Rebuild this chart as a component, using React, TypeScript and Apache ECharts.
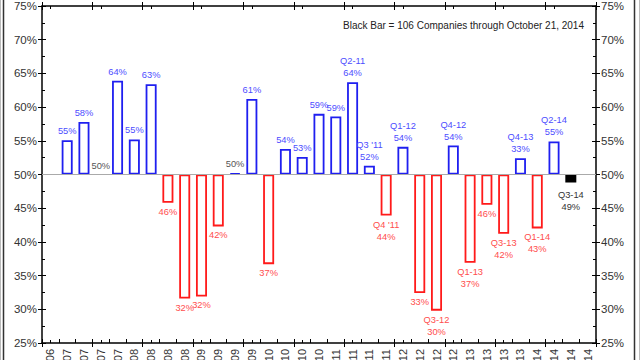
import React, { useEffect, useRef } from "react";
import * as echarts from "echarts";

const categories = [
  "Q4-06",
  "Q1-07", "Q2-07", "Q3-07", "Q4-07",
  "Q1-08", "Q2-08", "Q3-08", "Q4-08",
  "Q1-09", "Q2-09", "Q3-09", "Q4-09",
  "Q1-10", "Q2-10", "Q3-10", "Q4-10",
  "Q1-11", "Q2-11", "Q3-11", "Q4-11",
  "Q1-12", "Q2-12", "Q3-12", "Q4-12",
  "Q1-13", "Q2-13", "Q3-13", "Q4-13",
  "Q1-14", "Q2-14", "Q3-14", "Q4-14",
];

// percentage of companies beating (bar height, %)
const values: (number | null)[] = [
  null,
  55.1, 57.8, 50.0, 63.9,
  55.2, 63.4, 45.8, 31.6,
  31.9, 42.3, 50.2, 61.2,
  36.7, 53.8, 52.6, 59.0,
  58.6, 63.7, 51.3, 43.9,
  54.1, 32.4, 29.8, 54.3,
  36.9, 45.5, 41.2, 52.4,
  42.0, 54.9, 48.8, null,
];

// printed labels above / below bars
const barLabels: string[] = [
  "",
  "55%", "58%", "50%", "64%",
  "55%", "63%", "46%", "32%",
  "32%", "42%", "50%", "61%",
  "37%", "54%", "53%", "59%",
  "59%", "Q2-11\n64%", "Q3 '11\n52%", "Q4 '11\n44%",
  "Q1-12\n54%", "33%", "Q3-12\n30%", "Q4-12\n54%",
  "Q1-13\n37%", "46%", "Q3-13\n42%", "Q4-13\n33%",
  "Q1-14\n43%", "Q2-14\n55%", "Q3-14\n49%", "",
];

const highlightIndex = 31; // black bar (partial quarter)
const BASE = 50;
const yTicks = { min: 25, max: 75, step: 5 };

const FONT = "'Liberation Sans', Arial, sans-serif";
const BLUE = "#1f1ff0";
const RED = "#ff1a1a";
const BLUE_TXT = "#4d4dff";
const RED_TXT = "#ff4d4d";

export default function App() {
  const ref = useRef<HTMLDivElement>(null);

  useEffect(() => {
    if (!ref.current) return;
    const chart = echarts.init(ref.current, null, { renderer: "svg" });

    const barData = values.map((v, i) => {
      if (v == null) return null;
      const d = v - BASE;
      const isHi = i === highlightIndex;
      const isFlat = Math.abs(d) < 0.05;
      const up = d >= 0;
      const stroke = isHi ? "#000" : up ? BLUE : RED;
      const txt = isHi ? "#333" : isFlat || barLabels[i] === "50%" ? "#555" : up ? BLUE_TXT : RED_TXT;
      return {
        value: d,
        itemStyle: {
          color: isHi ? "#000" : "#fff",
          borderColor: stroke,
          borderWidth: isFlat ? 0 : 1.8,
        },
        label: {
          show: true,
          formatter: barLabels[i],
          position: up ? "top" : "bottom",
          distance: isHi ? 6 : 3,
          color: txt,
          fontSize: 9.3,
          lineHeight: 12,
          fontFamily: FONT,
        },
      };
    });

    const baseX = {
      type: "category" as const,
      data: categories,
      boundaryGap: true,
      splitLine: { show: false },
    };
    const tickStyle = { color: "#000", width: 1 };

    const xAxes = [
      {
        ...baseX,
        position: "bottom",
        axisLine: { show: true, onZero: false, lineStyle: { color: "#000", width: 1.5 } },
        axisTick: { show: true, inside: true, length: 4, lineStyle: tickStyle },
        axisLabel: {
          show: true,
          rotate: 90,
          interval: 0,
          margin: 6,
          color: "#333",
          fontSize: 11,
          fontFamily: FONT,
        },
      },
      {
        ...baseX,
        position: "bottom",
        axisLine: { show: false, onZero: false },
        axisTick: { show: true, inside: false, length: 4, lineStyle: tickStyle },
        axisLabel: { show: false },
      },
      {
        ...baseX,
        position: "bottom",
        axisLine: { show: false, onZero: false },
        axisTick: { show: true, inside: true, length: 3, alignWithLabel: true, lineStyle: tickStyle },
        axisLabel: { show: false },
      },
      {
        ...baseX,
        position: "top",
        axisLine: { show: true, onZero: false, lineStyle: { color: "#000", width: 1.5 } },
        axisTick: { show: true, inside: true, length: 4, lineStyle: tickStyle },
        axisLabel: { show: false },
      },
      {
        ...baseX,
        position: "top",
        axisLine: { show: false, onZero: false },
        axisTick: { show: true, inside: false, length: 4, lineStyle: tickStyle },
        axisLabel: { show: false },
      },
      {
        ...baseX,
        position: "top",
        axisLine: { show: false, onZero: false },
        axisTick: { show: true, inside: true, length: 3, alignWithLabel: true, lineStyle: tickStyle },
        axisLabel: { show: false },
      },
    ];

    const baseY = {
      type: "value" as const,
      min: yTicks.min - BASE,
      max: yTicks.max - BASE,
      interval: yTicks.step,
      splitLine: { show: false },
    };
    const yLabel = {
      show: true,
      formatter: (v: number) => `${v + BASE}%`,
      color: "#333",
      fontSize: 11.5,
      fontFamily: FONT,
      margin: 5,
    };
    const yAxes = [
      {
        ...baseY,
        position: "left",
        axisLine: { show: true, onZero: false, lineStyle: { color: "#000", width: 1.5 } },
        axisTick: { show: true, inside: false, length: 4, lineStyle: tickStyle },
        axisLabel: yLabel,
      },
      {
        ...baseY,
        position: "left",
        axisLine: { show: false, onZero: false },
        axisTick: { show: true, inside: true, length: 4, lineStyle: tickStyle },
        minorTick: { show: true, splitNumber: 2, length: 3, lineStyle: tickStyle },
        axisLabel: { show: false },
      },
      {
        ...baseY,
        position: "right",
        axisLine: { show: true, onZero: false, lineStyle: { color: "#000", width: 1.5 } },
        axisTick: { show: true, inside: false, length: 4, lineStyle: tickStyle },
        axisLabel: yLabel,
      },
      {
        ...baseY,
        position: "right",
        axisLine: { show: false, onZero: false },
        axisTick: { show: true, inside: true, length: 4, lineStyle: tickStyle },
        minorTick: { show: true, splitNumber: 2, length: 3, lineStyle: tickStyle },
        axisLabel: { show: false },
      },
    ];

    chart.setOption({
      animation: false,
      backgroundColor: "#fff",
      grid: { left: 42, right: 44, top: 6, bottom: 17, containLabel: false, outerBoundsMode: "none" },
      xAxis: xAxes,
      yAxis: yAxes,
      graphic: [
        { type: "line", shape: { x1: 0.5, y1: 0, x2: 0.5, y2: 360 }, style: { stroke: "#bbb", lineWidth: 1 } },
        { type: "line", shape: { x1: 3.5, y1: 0, x2: 3.5, y2: 360 }, style: { stroke: "#333", lineWidth: 1.5 } },
        { type: "line", shape: { x1: 634.5, y1: 0, x2: 634.5, y2: 360 }, style: { stroke: "#333", lineWidth: 1.5 } },
        { type: "line", shape: { x1: 639.5, y1: 0, x2: 639.5, y2: 360 }, style: { stroke: "#bbb", lineWidth: 1 } },
        {
          type: "text",
          x: 584,
          y: 25,
          style: {
            text: "Black Bar = 106 Companies through October 21, 2014",
            align: "right",
            verticalAlign: "middle",
            fill: "#222",
            fontSize: 10,
            fontFamily: FONT,
          },
        },
      ],
      series: [
        {
          type: "line",
          xAxisIndex: 0,
          yAxisIndex: 0,
          data: [],
          z: 1,
          silent: true,
          markLine: {
            silent: true,
            symbol: "none",
            label: { show: false },
            lineStyle: { color: "#aaa", width: 1, type: "solid" },
            data: [{ yAxis: 0 }],
          },
        },
        {
          type: "bar",
          xAxisIndex: 0,
          yAxisIndex: 0,
          barWidth: 11,
          z: 3,
          data: barData,
        },
      ],
    });

    return () => chart.dispose();
  }, []);

  return (
    <div
      ref={ref}
      style={{ position: "absolute", left: 0, top: 0, width: 640, height: 360, background: "#fff" }}
    />
  );
}
